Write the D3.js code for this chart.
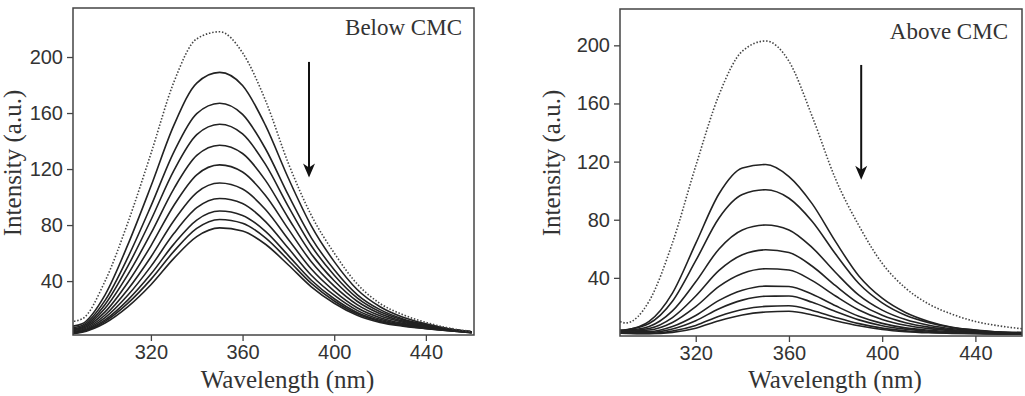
<!DOCTYPE html>
<html>
<head>
<meta charset="utf-8">
<script src="https://cdn.jsdelivr.net/npm/d3@7/dist/d3.min.js"></script>
<style>
  body { margin: 0; background: #fff; }
  .tick text { font-family: 'Liberation Sans', Arial, sans-serif; font-size: 20px; fill: #333; }
  .tick line { stroke: #444; stroke-width: 1.3; }
  .axis-label { font-family: 'Liberation Serif', 'Times New Roman', serif; font-size: 25px; fill: #333; }
  .note { font-family: 'Liberation Serif', 'Times New Roman', serif; font-size: 23px; fill: #333; }
</style>
</head>
<body>
<svg width="1025" height="396"></svg>
<script>
// wavelength grid (nm) shared by every spectrum
const wavelengths = [285, 290, 300, 310, 320, 330, 340, 350, 360, 370, 380, 390, 400, 410, 420, 430, 440, 450, 460];

const xTicks = [320, 360, 400, 440];
const yTicks = [40, 80, 120, 160, 200];

// Below CMC: dotted = no quencher, then solid spectra with rising quencher
const belowDotted = [11, 13, 40, 82, 131, 182, 213, 218, 203, 169, 124, 87, 60, 38, 24, 16, 10.5, 6.5, 4];
const belowSolid = [
  [7.6, 9.5, 30.2, 66.2, 107.7, 151.2, 181.4, 189, 179.6, 151.2, 113.4, 79.4, 53.9, 34, 21.7, 14.2, 9.5, 6, 3.8],
  [6.5, 8.3, 26.2, 57.1, 93.5, 132.1, 159.6, 167, 159, 134.5, 101.3, 70.9, 48.1, 30.4, 19.6, 13, 8.9, 5.8, 3.7],
  [5.7, 7.4, 23.3, 50.8, 83.6, 118.9, 144.6, 152, 145.1, 123.3, 93.2, 65.2, 44.2, 28, 18.1, 12.3, 8.5, 5.7, 3.7],
  [5, 6.6, 20.6, 44.8, 74, 105.9, 129.7, 137, 131.1, 111.9, 84.9, 59.4, 40.2, 25.6, 16.7, 11.4, 8.1, 5.6, 3.7],
  [4.4, 5.9, 18, 39.2, 65.2, 94, 115.9, 123, 117.9, 101.1, 77.1, 53.8, 36.4, 23.2, 15.2, 10.6, 7.6, 5.4, 3.6],
  [3.8, 5.2, 15.8, 34.2, 57.2, 83.1, 103.2, 110, 105.7, 91.1, 69.7, 48.6, 32.9, 21, 13.9, 9.8, 7.2, 5.1, 3.4],
  [3.3, 4.6, 13.9, 30, 50.5, 73.9, 92.4, 99, 95.4, 82.5, 63.4, 44.2, 29.9, 19.1, 12.7, 9.1, 6.7, 4.9, 3.3],
  [2.9, 4.1, 12.3, 26.6, 45, 66.4, 83.6, 90, 86.9, 75.5, 58.2, 40.6, 27.4, 17.6, 11.8, 8.5, 6.4, 4.7, 3.2],
  [2.6, 3.8, 11.2, 24.2, 41.2, 61.2, 77.6, 84, 81.3, 70.9, 54.9, 38.3, 25.8, 16.6, 11.2, 8.2, 6.2, 4.6, 3.2],
  [2.3, 3.5, 10.1, 21.8, 37.4, 56.2, 71.8, 78, 75.7, 66.3, 51.5, 35.9, 24.2, 15.6, 10.5, 7.8, 6, 4.5, 3.1]
];

// Above CMC
const aboveDotted = [12, 9, 24, 64, 117, 166, 196, 203, 189, 151, 108, 76, 50, 33, 22, 15, 10, 7, 5];
const aboveSolid = [
  [3.1, 4, 10, 29.5, 63.7, 97.9, 115.6, 118, 109.7, 90.9, 64.9, 41.3, 26, 16.2, 10, 6, 4, 2.5, 2],
  [3.8, 4.3, 8.6, 23.9, 51.8, 81.2, 97.3, 100.6, 94.8, 78.8, 56.4, 36.1, 22.8, 14.3, 9.2, 5.8, 4.1, 2.8, 2.4],
  [3.8, 4, 6.6, 17.3, 37.3, 59.9, 73, 76.4, 73, 60.8, 43.7, 28.1, 17.8, 11.3, 7.4, 5, 3.7, 2.7, 2.3],
  [3.6, 3.7, 5.2, 12.7, 27.5, 45.1, 55.9, 59.3, 57.4, 48, 34.6, 22.4, 14.2, 9.1, 6.1, 4.3, 3.3, 2.5, 2.2],
  [3.4, 3.3, 4.1, 9.3, 20.2, 34.1, 43, 46.3, 45.4, 38.1, 27.5, 17.9, 11.4, 7.4, 5.1, 3.7, 2.9, 2.3, 2],
  [2.9, 2.8, 3, 6.5, 14.1, 24.5, 31.5, 34.3, 34.1, 28.7, 20.8, 13.6, 8.7, 5.6, 4, 3, 2.4, 1.9, 1.8],
  [2.7, 2.5, 2.4, 4.8, 10.5, 18.8, 24.7, 27.4, 27.5, 23.2, 16.9, 11.1, 7.1, 4.7, 3.3, 2.6, 2.1, 1.7, 1.6],
  [2.2, 2, 1.8, 3.4, 7.3, 13.6, 18.2, 20.4, 20.8, 17.6, 12.8, 8.5, 5.4, 3.6, 2.6, 2.1, 1.7, 1.5, 1.3],
  [2, 1.8, 1.5, 2.5, 5.4, 10.5, 14.5, 16.5, 17, 14.5, 10.5, 7, 4.5, 3, 2.2, 1.8, 1.5, 1.3, 1.2]
];

const svg = d3.select('svg');

const panels = [
  {
    id: 'below', left: 73, top: 8, width: 401, height: 327,
    xDomain: [286, 461], yDomain: [1.5, 235],
    dotted: belowDotted, solid: belowSolid,
    note: 'Below CMC', noteX: 462, noteY: 35,
    arrow: {x: 389, y0: 196.5, y1: 114},
    yLabelX: 21
  },
  {
    id: 'above', left: 620, top: 9, width: 402, height: 327,
    xDomain: [287.5, 460], yDomain: [0, 225],
    dotted: aboveDotted, solid: aboveSolid,
    note: 'Above CMC', noteX: 1008, noteY: 39,
    arrow: {x: 391, y0: 186.5, y1: 107.5},
    yLabelX: 560
  }
];

const render = p => {
  const xScale = d3.scaleLinear()
    .domain(p.xDomain)
    .range([0, p.width]);

  const yScale = d3.scaleLinear()
    .domain(p.yDomain)
    .range([p.height, 0]);

  const g = svg.append('g')
    .attr('transform', `translate(${p.left},${p.top})`);

  g.append('clipPath')
    .attr('id', 'clip-' + p.id)
    .append('rect')
    .attr('width', p.width)
    .attr('height', p.height);

  const xAxis = d3.axisBottom(xScale)
    .tickValues(xTicks)
    .tickSize(6)
    .tickPadding(4);

  const yAxis = d3.axisLeft(yScale)
    .tickValues(yTicks)
    .tickSize(6)
    .tickPadding(4);

  const xAxisG = g.append('g')
    .attr('transform', `translate(0,${p.height})`)
    .call(xAxis);
  xAxisG.select('.domain').remove();

  const yAxisG = g.append('g').call(yAxis);
  yAxisG.select('.domain').remove();

  const line = d3.line()
    .x((d, i) => xScale(wavelengths[i]))
    .y(d => yScale(d))
    .curve(d3.curveMonotoneX);

  const plot = g.append('g')
    .attr('clip-path', `url(#clip-${p.id})`);

  plot.selectAll('.solid')
    .data(p.solid)
    .enter().append('path')
    .attr('class', 'solid')
    .attr('d', line)
    .attr('fill', 'none')
    .attr('stroke', '#222')
    .attr('stroke-width', 1.6);

  plot.append('path')
    .datum(p.dotted)
    .attr('d', line)
    .attr('fill', 'none')
    .attr('stroke', '#444')
    .attr('stroke-width', 1.6)
    .attr('stroke-dasharray', '1.5,1.8');

  // frame
  g.append('rect')
    .attr('width', p.width)
    .attr('height', p.height)
    .attr('fill', 'none')
    .attr('stroke', '#444')
    .attr('stroke-width', 1.5);

  // arrow
  const ax = xScale(p.arrow.x);
  const ay0 = yScale(p.arrow.y0);
  const ay1 = yScale(p.arrow.y1);
  g.append('line')
    .attr('x1', ax).attr('x2', ax)
    .attr('y1', ay0).attr('y2', ay1 - 8)
    .attr('stroke', '#111')
    .attr('stroke-width', 2);
  g.append('path')
    .attr('d', `M${ax},${ay1} L${ax - 6},${ay1 - 14} L${ax},${ay1 - 10} L${ax + 6},${ay1 - 14} Z`)
    .attr('fill', '#111');

  svg.append('text')
    .attr('class', 'note')
    .attr('x', p.noteX)
    .attr('y', p.noteY)
    .style('text-anchor', 'end')
    .text(p.note);

  svg.append('text')
    .attr('class', 'axis-label')
    .attr('x', p.left + p.width / 2 + 14)
    .attr('y', 388)
    .style('text-anchor', 'middle')
    .text('Wavelength (nm)');

  svg.append('text')
    .attr('class', 'axis-label')
    .attr('transform', `translate(${p.yLabelX},163) rotate(-90)`)
    .style('text-anchor', 'middle')
    .text('Intensity (a.u.)');
};

panels.forEach(render);
</script>
</body>
</html>
